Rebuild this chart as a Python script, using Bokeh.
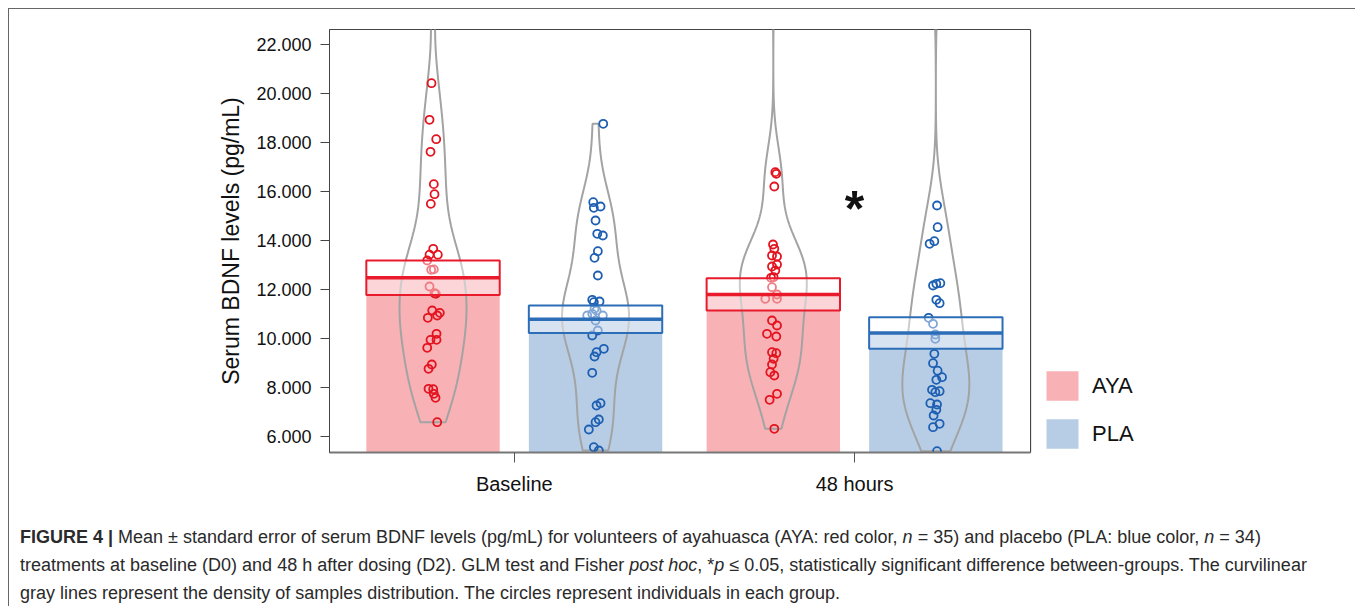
import numpy as np
from bokeh.plotting import figure
from bokeh.models import Range1d, FixedTicker, Legend, LegendItem, Div
from bokeh.layouts import column, row
from bokeh.embed import file_html
from bokeh.resources import INLINE
from bokeh.core.properties import value

# ---------------- data ----------------
groups = ["Baseline", "48 hours"]
series = ["AYA", "PLA"]
y_ticks = [6000, 8000, 10000, 12000, 14000, 16000, 18000, 20000, 22000]
y_tick_labels = ["6.000", "8.000", "10.000", "12.000", "14.000", "16.000", "18.000", "20.000", "22.000"]

aya_mean = [12460, 11780]
aya_se = [700, 660]
pla_mean = [10765, 10205]
pla_se = [560, 645]

aya_base = [20400, 18905, 18115, 17600, 16280, 15870, 15476, 13640, 13400, 13400, 13163,
            12800, 12784, 12102, 11830, 11800, 11122, 11027, 10824, 10918, 10171, 9925,
            9925, 9600, 8918, 8743, 7926, 7911, 7722, 7559, 6563, 24500]
aya_base_jit = [-1.5, -3.5, 3.2, -2.5, 0.8, 1.5, -2.2, 0.2, -3.5, 4.8, -5.8,
                0.8, -1.8, -3.5, 1.5, 2.8, -0.8, 6.8, -5.2, 4.2, 3.5, -2.5,
                3.5, -5.8, -1.2, -4.5, -4.5, 0.2, 0.8, 2.5, 4.2, 0.0]

pla_base = [18742, 15544, 15367, 15313, 14796, 14253, 14184, 13544, 13272, 12551, 11559,
            11463, 11490, 11192, 10988, 10918, 11122, 10918, 10714, 10306, 10102, 9559,
            9421, 9245, 8580, 7339, 7245, 6673, 6563, 6265, 5543, 5408]
pla_base_jit = [7.7, -2.3, 5.0, -1.7, 0.0, 1.7, 7.3, 2.3, -1.0, 2.3, -3.3,
                -1.7, 4.0, -1.0, -3.3, -8.3, 1.0, 7.3, 0.0, 2.3, -3.3, 8.3,
                1.0, -1.0, -3.3, 5.0, 1.0, 3.3, 0.0, -6.7, -1.7, 3.3]

aya_48 = [16770, 16702, 16184, 13816, 13641, 13327, 13367, 13000, 12918, 12755, 12483,
          12456, 12074, 11776, 11600, 11600, 10714, 10510, 10171, 10061, 9421, 9380,
          9150, 8918, 8605, 8469, 7722, 7477, 6294, 25500]
aya_48_jit = [2.0, 3.0, 1.0, -0.3, 1.0, 3.7, -1.3, 3.7, -1.3, 2.0, 0.3,
              -2.3, -1.3, 3.7, -8.0, 3.7, -1.3, 3.7, -6.3, 3.0, -1.3, 3.0,
              0.3, -1.3, -3.0, 1.0, 3.7, -3.7, 1.0, 0.0]

pla_48 = [15408, 14522, 13951, 13844, 12211, 12237, 12143, 11559, 11420, 10824, 10579,
          10143, 9967, 9355, 8971, 8667, 8400, 8294, 7886, 7829, 7788, 7339,
          7286, 7069, 6837, 6359, 6498, 5380, 25000]
pla_48_jit = [1.2, 1.8, -1.5, -6.2, 0.5, 4.5, -2.8, 0.5, 3.8, -7.2, -2.8,
              -0.5, -0.5, -1.5, -2.8, 1.8, 6.2, 0.5, -3.8, 3.8, -0.5, -5.5,
              1.2, 0.5, -2.2, -2.8, 3.8, 1.2, 0.0]

sig_marker_y = 15250

# ---------------- styling ----------------
PINK = "#F8B2B6"
LBLUE = "#B7CDE6"
RED = "#E3131F"
BLUE = "#1D5FB2"
BOX_RED = "#E81A2B"
BOX_BLUE = "#2C6DB8"
GRAY = "#A3A3A3"
FONT = "Liberation Sans"

OFF = 0.2388      # half distance between the two bars of a group
BAR_W = 0.392
PX = 340.3        # pixels per x unit
HALF_VIOLIN = 33.5 / PX

x_range = Range1d(0.457, 2.517)
y_range = Range1d(5327, 22592)

p = figure(width=1022, height=496, x_range=x_range, y_range=y_range,
           output_backend="svg", toolbar_location=None,
           min_border_left=320, min_border_right=1, min_border_top=20, min_border_bottom=53)
p.grid.visible = False
p.outline_line_color = "#444444"
p.outline_line_width = 1
p.background_fill_color = "white"
p.border_fill_color = "white"

# y axis
p.yaxis.ticker = FixedTicker(ticks=y_ticks)
p.yaxis.major_label_overrides = {t: l for t, l in zip(y_ticks, y_tick_labels)}
p.yaxis.axis_label = "Serum BDNF levels (pg/mL)"
p.yaxis.axis_label_text_font = FONT
p.yaxis.axis_label_text_font_size = "23px"
p.yaxis.axis_label_text_font_style = "normal"
p.yaxis.axis_label_text_color = "#111111"
p.yaxis.axis_label_standoff = 9
p.yaxis.major_label_text_font = FONT
p.yaxis.major_label_text_font_size = "18px"
p.yaxis.major_label_text_color = "#111111"
p.yaxis.major_label_standoff = 9
p.yaxis.major_tick_out = 9
p.yaxis.major_tick_in = 0
p.yaxis.minor_tick_line_color = None
p.yaxis.axis_line_color = "#444444"
p.yaxis.major_tick_line_color = "#444444"

# x axis
gx = [1, 2]
p.xaxis.ticker = FixedTicker(ticks=gx)
p.xaxis.major_label_overrides = {g: n for g, n in zip(gx, groups)}
p.xaxis.major_label_text_font = FONT
p.xaxis.major_label_text_font_size = "20px"
p.xaxis.major_label_text_color = "#111111"
p.xaxis.major_label_standoff = 10
p.xaxis.major_tick_out = 10
p.xaxis.major_tick_in = 0
p.xaxis.minor_tick_line_color = None
p.xaxis.axis_line_color = "#777777"
p.xaxis.axis_line_width = 2
p.xaxis.major_tick_line_color = "#555555"

aya_x = [g - OFF for g in gx]
pla_x = [g + OFF for g in gx]

# bars (to the mean)
p.vbar(x=aya_x, width=BAR_W, bottom=0, top=aya_mean, fill_color=PINK, line_color=None)
p.vbar(x=pla_x, width=BAR_W, bottom=0, top=pla_mean, fill_color=LBLUE, line_color=None)


def violin(vals, cx):
    v = np.asarray(vals, dtype=float)
    n = len(v)
    sd = v.std(ddof=1)
    q75, q25 = np.percentile(v, [75, 25])
    bw = 0.9 * min(sd, (q75 - q25) / 1.34) * n ** -0.2
    grid = np.linspace(v.min(), v.max(), 300)
    dens = np.exp(-0.5 * ((grid[:, None] - v[None, :]) / bw) ** 2).sum(axis=1)
    hw = dens / dens.max() * HALF_VIOLIN
    xs = np.concatenate([cx - hw, (cx + hw)[::-1]])
    ys = np.concatenate([grid, grid[::-1]])
    p.patch(xs, ys, fill_alpha=0, line_color=GRAY, line_width=2)


sets = [
    (aya_base, aya_base_jit, aya_x[0], RED),
    (pla_base, pla_base_jit, pla_x[0], BLUE),
    (aya_48, aya_48_jit, aya_x[1], RED),
    (pla_48, pla_48_jit, pla_x[1], BLUE),
]
for vals, jit, cx, col in sets:
    violin(vals, cx)
for vals, jit, cx, col in sets:
    xs = [cx + j / PX for j in jit]
    p.scatter(xs, vals, size=8, marker="circle", fill_alpha=0, line_color=col, line_width=1.8)

# mean +/- SE boxes
for xs, m, se, col in [(aya_x, aya_mean, aya_se, BOX_RED), (pla_x, pla_mean, pla_se, BOX_BLUE)]:
    left = [x - BAR_W / 2 for x in xs]
    right = [x + BAR_W / 2 for x in xs]
    p.quad(left=left, right=right, bottom=[a - b for a, b in zip(m, se)],
           top=[a + b for a, b in zip(m, se)], fill_color="white", fill_alpha=0.45,
           line_color=col, line_width=2)
    p.segment(x0=left, x1=right, y0=m, y1=m, line_color=col, line_width=3.5)

# significance marker
p.text(x=[gx[1]], y=[sig_marker_y], text=["*"], text_font=value(FONT), text_font_size="50px",
       text_font_style="bold", text_align="center", text_baseline="middle", text_color="#111111")

# ---------------- legend (own figure to the right of the frame) ----------------
lf = figure(width=316, height=496, output_backend="svg", toolbar_location=None,
            x_range=Range1d(0, 1), y_range=Range1d(0, 1),
            x_axis_location=None, y_axis_location=None,
            min_border_left=0, min_border_right=0, min_border_top=20, min_border_bottom=53)
lf.grid.visible = False
lf.outline_line_color = None
lf.border_fill_color = "white"
# renderers only serve as legend swatches; their (dummy) data lies outside the visible range
aya_leg = lf.vbar(x=[-10], width=1, bottom=[0], top=[1], fill_color=PINK, line_color=None)
pla_leg = lf.vbar(x=[-10], width=1, bottom=[0], top=[1], fill_color=LBLUE, line_color=None)
legend = Legend(items=[LegendItem(label=series[0], renderers=[aya_leg]),
                       LegendItem(label=series[1], renderers=[pla_leg])],
                location=(11, 0), glyph_width=40, glyph_height=37, spacing=11,
                label_standoff=10, label_text_font=FONT, label_text_font_size="22px",
                label_text_color="#111111", border_line_color=None,
                background_fill_alpha=0, padding=0, margin=0)
lf.add_layout(legend)

caption = (
    '<div style="font-family: \'Liberation Sans\', Arial, sans-serif; font-size: 18px; '
    'line-height: 28px; color: #2a2a2a; white-space: nowrap; padding: 13px 0 0 6px;">'
    '<b>FIGURE 4 |</b> Mean &plusmn; standard error of serum BDNF levels (pg/mL) for volunteers of '
    'ayahuasca (AYA: red color, <i>n</i> = 35) and placebo (PLA: blue color, <i>n</i> = 34)<br>'
    'treatments at baseline (D0) and 48 h after dosing (D2). GLM test and Fisher <i>post hoc</i>, '
    '*<i>p</i> &le; 0.05, statistically significant difference between-groups. The curvilinear<br>'
    'gray lines represent the density of samples distribution. The circles represent individuals '
    'in each group.</div>'
)
cap = Div(text=caption, width=1338, height=92)

layout = column(row(p, lf), cap, margin=(8, 0, 0, 8),
                styles={"border-top": "1px solid #666", "border-left": "1px solid #666"})

open("out.html", "w").write(file_html(layout, INLINE))
